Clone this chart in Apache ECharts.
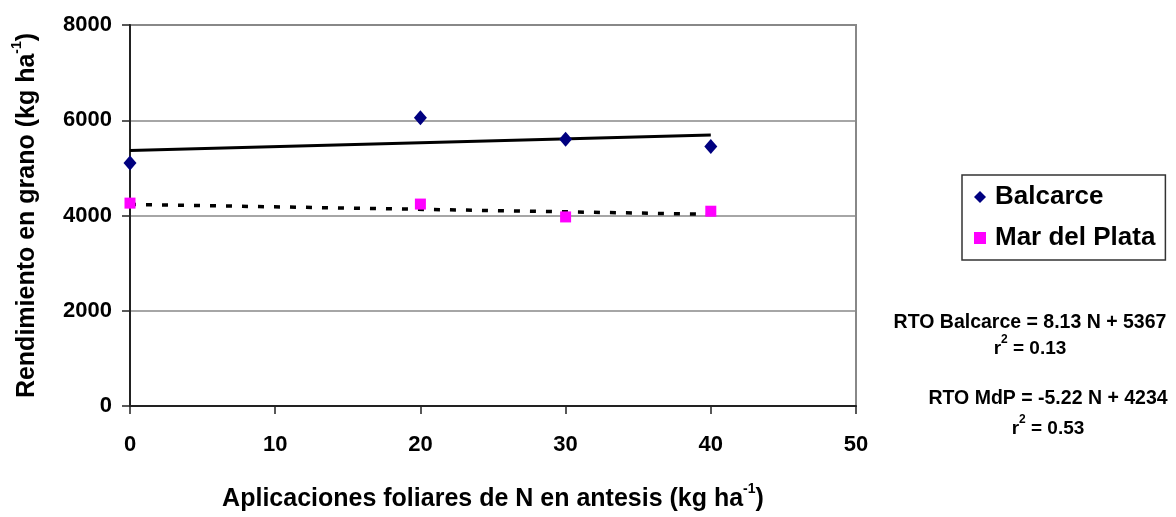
<!DOCTYPE html>
<html>
<head>
<meta charset="utf-8">
<script src="https://cdn.jsdelivr.net/npm/echarts@6/dist/echarts.min.js"></script>
<style>html,body{margin:0;padding:0;background:#fff;overflow:hidden;}#c{width:1176px;height:517px;}</style>
</head>
<body>
<div id="c"></div>
<script>
const nDoses = [0, 20, 30, 40];
const balcarce = [5100, 6050, 5600, 5450];
const marDelPlata = [4260, 4240, 3970, 4090];
const trendRange = [0, 40];
const balcarceFit = { slope: 8.13, intercept: 5367 };
const mdpFit = { slope: -5.22, intercept: 4234 };
const xTicks = [0, 10, 20, 30, 40, 50];
const yTicks = [0, 2000, 4000, 6000, 8000];

const font = '"Liberation Sans", Arial, sans-serif';
const chart = echarts.init(document.getElementById('c'), null, { width: 1176, height: 517 });
const pts = (xs, ys) => xs.map((x, i) => [x, ys[i]]);
const fitLine = f => trendRange.map(x => [x, f.intercept + f.slope * x]);

const titleRich = (size) => ({
  t: { fontSize: size, fontWeight: 'bold', color: '#000', fontFamily: font, lineHeight: 30, verticalAlign: 'bottom' },
  s: { fontSize: 14, fontWeight: 'bold', color: '#000', fontFamily: font, lineHeight: 30, verticalAlign: 'top', padding: [0, 0, 12, 0] }
});
const r2Rich = {
  t: { fontSize: 19, fontWeight: 'bold', fill: '#000', fontFamily: font, lineHeight: 24, verticalAlign: 'bottom' },
  s: { fontSize: 12, fontWeight: 'bold', fill: '#000', fontFamily: font, lineHeight: 24, verticalAlign: 'top', padding: [0, 0, 9, 0] }
};

chart.setOption({
  animation: false,
  textStyle: { fontFamily: font },
  grid: { left: 130, top: 25, width: 726, height: 383, show: true, borderColor: '#888', borderWidth: 2, backgroundColor: 'transparent' },
  xAxis: {
    type: 'value', min: xTicks[0], max: xTicks[xTicks.length - 1], interval: 10,
    axisLine: { show: true, onZero: false, lineStyle: { color: '#222', width: 2 } },
    axisTick: { show: true, length: 8, lineStyle: { color: '#222', width: 1.5 } },
    splitLine: { show: false },
    axisLabel: { color: '#000', fontWeight: 'bold', fontSize: 22, margin: 28, fontFamily: font, formatter: v => String(v) },
    name: '{t|Aplicaciones foliares de N en antesis (kg ha}{s|-1}{t|)}',
    nameLocation: 'middle', nameGap: 76,
    nameTextStyle: { rich: titleRich(25) }
  },
  yAxis: {
    type: 'value', min: yTicks[0], max: yTicks[yTicks.length - 1], interval: 2000,
    axisLine: { show: true, lineStyle: { color: '#222', width: 2 } },
    axisTick: { show: true, length: 8, lineStyle: { color: '#222', width: 1.5 } },
    splitLine: { show: true, lineStyle: { color: '#888', width: 1.5 } },
    axisLabel: { color: '#000', fontWeight: 'bold', fontSize: 22, margin: 18, fontFamily: font, formatter: v => String(v) },
    name: '{t|Rendimiento en grano (kg ha}{s|-1}{t|)}',
    nameLocation: 'middle', nameGap: 90, nameRotate: 90,
    nameTextStyle: { rich: titleRich(25) }
  },
  legend: {
    left: 962, top: 175, orient: 'vertical',
    padding: [9, 10, 9, 12],
    borderColor: '#333', borderWidth: 1.5,
    itemGap: 15, itemWidth: 12, itemHeight: 12,
    textStyle: { fontSize: 26, fontWeight: 'bold', color: '#000', fontFamily: font, padding: [0, 0, 0, 4] },
    data: [
      { name: 'Balcarce', icon: 'diamond' },
      { name: 'Mar del Plata', icon: 'rect' }
    ]
  },
  series: [
    { name: 'Balcarce trend', type: 'line', data: fitLine(balcarceFit), symbol: 'none', lineStyle: { color: '#000', width: 3 }, z: 2 },
    { name: 'MdP trend', type: 'line', data: fitLine(mdpFit), symbol: 'none', lineStyle: { color: '#000', width: 3.5, type: [6, 10] }, z: 2 },
    { name: 'Balcarce', type: 'scatter', data: pts(nDoses, balcarce), symbol: 'diamond', symbolSize: [13, 15], itemStyle: { color: '#000080', opacity: 1 }, z: 3 },
    { name: 'Mar del Plata', type: 'scatter', data: pts(nDoses, marDelPlata), symbol: 'rect', symbolSize: 11, itemStyle: { color: '#FF00FF', opacity: 1 }, z: 3 }
  ],
  graphic: [
    { type: 'text', x: 1030, y: 313, style: { text: 'RTO Balcarce = 8.13 N + 5367', align: 'center', fontSize: 19.5, fontWeight: 'bold', fill: '#000', fontFamily: font } },
    { type: 'text', x: 1030, y: 334, style: { text: '{t|r}{s|2}{t| = 0.13}', align: 'center', fontSize: 19, fontWeight: 'bold', fill: '#000', fontFamily: font, rich: r2Rich } },
    { type: 'text', x: 1048, y: 389, style: { text: 'RTO MdP = -5.22 N + 4234', align: 'center', fontSize: 19.5, fontWeight: 'bold', fill: '#000', fontFamily: font } },
    { type: 'text', x: 1048, y: 414, style: { text: '{t|r}{s|2}{t| = 0.53}', align: 'center', fontSize: 19, fontWeight: 'bold', fill: '#000', fontFamily: font, rich: r2Rich } }
  ]
});
</script>
</body>
</html>
